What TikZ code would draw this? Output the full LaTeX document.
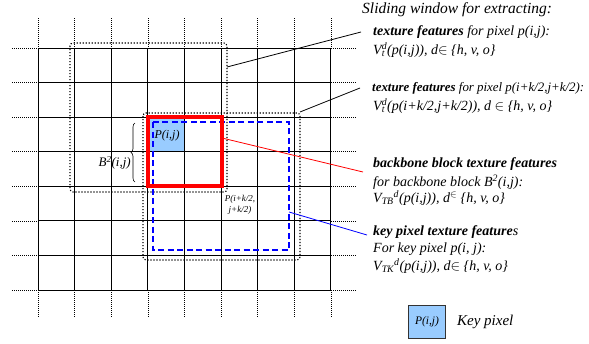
\documentclass[tikz,border=0pt]{standalone}
\usepackage{fontspec}
\setmainfont{Liberation Serif}
\usetikzlibrary{positioning,decorations.pathreplacing}
\definecolor{keyblue}{RGB}{153,204,255}
\newcommand{\vtd}{V\rlap{\textsubscript{t}}\textsuperscript{d}}
\tikzset{
  gridline/.style={line width=0.9pt},
  gridext/.style={dash pattern=on 1pt off 1pt, line width=0.6pt},
  window/.style={dash pattern=on 1.2pt off 1.8pt, line width=1.1pt, rounded corners=3pt},
  desc/.style={anchor=west, inner sep=0pt, font=\fontsize{14}{16}\selectfont\itshape},
  lead/.style={line width=0.8pt},
}
\begin{document}
\begin{tikzpicture}[x=1pt,y=-1pt]
    \useasboundingbox (0,0) rectangle (589,343);
    % Key pixel
    \fill[keyblue] (148,117) rectangle (184.4,151.7);
    % Grid
    \foreach \i in {0,...,8} {
        \draw[gridline] (38+36.6*\i,48) -- (38+36.6*\i,290);
        \draw[gridext] (38+36.6*\i,18) -- (38+36.6*\i,48);
        \draw[gridext] (38+36.6*\i,290) -- (38+36.6*\i,318);
    }
    \foreach \j in {0,...,7} {
        \draw[gridline] (38,48+34.57*\j) -- (330.8,48+34.57*\j);
        \draw[gridext] (12,48+34.57*\j) -- (38,48+34.57*\j);
        \draw[gridext] (330.8,48+34.57*\j) -- (356,48+34.57*\j);
    }
    % Sliding windows
    \draw[window] (70,43) rectangle (227,192);
    \draw[window] (143,113) rectangle (300,260);
    \draw[blue, line width=1.3pt, dash pattern=on 6pt off 3.5pt] (153,122) rectangle (289,250);
    \draw[red, line width=4pt] (148,117) rectangle (222,186);
    % Labels in the grid
    \node[font=\fontsize{12}{12}\selectfont\itshape] (pij) at (167,136) {P(i,j)};
    \draw[decorate, decoration={brace, amplitude=4pt}, line width=0.6pt] (135,182) -- (135,123);
    \node[anchor=east, inner sep=0pt, font=\fontsize{13}{13}\selectfont\itshape] (bij) at (131,163) {B\textsuperscript{2}(i,j)};
    \node[align=center, font=\fontsize{9}{10.5}\selectfont\itshape] (pmid) at (240,205) {P(i+k/2,\\ j+k/2)};
    % Descriptions
    \node[desc, font=\fontsize{15.5}{16}\selectfont\itshape] (title) at (362,10) {Sliding window for extracting:};
    \node[desc] (tex1) at (373,32) {\textbf{texture features} for pixel p(i,j):};
    \node[desc] (tex1v) at (373,50) {\vtd(p(i,j)), d$\in$ \{h, v, o\}};
    \node[desc, font=\fontsize{12.9}{16}\selectfont\itshape] (tex2) at (372,88) {\textbf{texture features} for pixel p(i+k/2,j+k/2):};
    \node[desc] (tex2v) at (373,106) {\vtd(p(i+k/2,j+k/2)), d $\in$ \{h, v, o\}};
    \node[desc] (bb) at (373,164) {\textbf{backbone block texture features}};
    \node[desc] (bbfor) at (373,182) {for backbone block B\textsuperscript{2}(i,j):};
    \node[desc] (bbv) at (373,198) {V\textsubscript{TB}\textsuperscript{d}(p(i,j)), d\textsuperscript{$\in$} \{h, v, o\}};
    \node[desc] (key) at (373,232) {\textbf{key pixel texture feature}s};
    \node[desc] (keyfor) at (373,249) {For key pixel p(i, j):};
    \node[desc] (keyv) at (373,266) {V\textsubscript{TK}\textsuperscript{d}(p(i,j)), d$\in$ \{h, v, o\}};
    % Legend
    \node[draw=black!80, line width=0.8pt, fill=keyblue, minimum width=37pt, minimum height=33pt, inner sep=0pt, font=\fontsize{11.5}{11.5}\selectfont\itshape] (legbox) at (427,322) {P(i,j)};
    \node[desc, font=\fontsize{15}{15}\selectfont\itshape, right=11pt of legbox] (legtext) {Key pixel};
    % Leaders
    \coordinate (w1) at (227,67);
    \coordinate (w2) at (300,112);
    \coordinate (rb) at (222,138);
    \coordinate (kb) at (289,212);
    \draw[lead] (w1) -- ([xshift=-12pt]tex1.west);
    \draw[lead] (w2) -- ([xshift=-12pt]tex2.west);
    \draw[lead, red] (rb) -- ([xshift=-10pt,yshift=-8pt]bb.west);
    \draw[lead, blue] (kb) -- ([xshift=-6pt,yshift=-3pt]key.west);
\end{tikzpicture}
\end{document}
